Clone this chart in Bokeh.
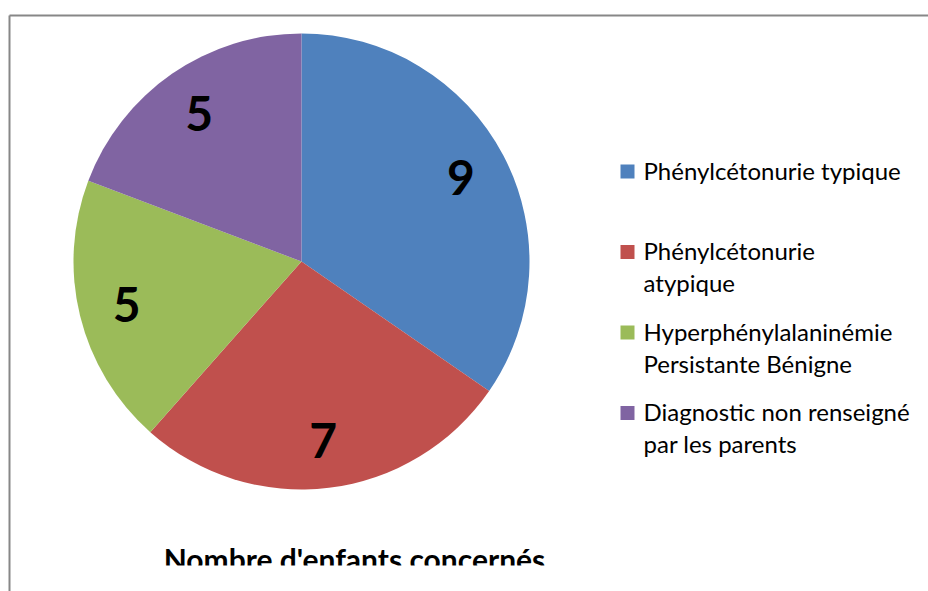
import math
from bokeh.plotting import figure
from bokeh.models import Range1d, ColumnDataSource
from bokeh.core.properties import value
from bokeh.embed import file_html
from bokeh.resources import INLINE

# ---- data ----
categories = [
    "Phénylcétonurie typique",
    "Phénylcétonurie\natypique",
    "Hyperphénylalaninémie\nPersistante Bénigne",
    "Diagnostic non renseigné\npar les parents",
]
counts = [9, 7, 5, 5]
colors = ["#4F81BD", "#C0504D", "#9BBB59", "#8064A2"]
title_text = "Nombre d'enfants concernés"

# ---- layout (figure pixel space, y up) ----
W, H = 928, 591
def fx(sx):
    return sx
def fy(sy):
    return H - sy

FONT = "Lato"

p = figure(width=W, height=H, x_range=Range1d(0, W), y_range=Range1d(0, H),
           output_backend="svg", toolbar_location=None, min_border=0,
           x_axis_type=None, y_axis_type=None, outline_line_color=None,
           background_fill_color="white", border_fill_color="white")
p.grid.visible = False

# pie
cx, cy, R = fx(301), fy(261), 228
total = sum(counts)
starts, ends, lx, ly = [], [], [], []
cum = 0
for c in counts:
    a_end = math.pi / 2 - 2 * math.pi * cum / total
    cum += c
    a_start = math.pi / 2 - 2 * math.pi * cum / total
    starts.append(a_start)
    ends.append(a_end)
    mid = (a_start + a_end) / 2
    lx.append(cx + 0.79 * R * math.cos(mid))
    ly.append(cy + 0.79 * R * math.sin(mid))

src = ColumnDataSource(dict(start=starts, end=ends, color=colors,
                            lx=lx, ly=ly, txt=[str(c) for c in counts]))
p.wedge(x=cx, y=cy, radius=R, start_angle="start", end_angle="end",
        fill_color="color", line_color=None, source=src)
p.text(x="lx", y="ly", text="txt", source=src, text_font=value(FONT),
       text_font_style="bold", text_font_size="48px", text_color="black",
       text_align="center", text_baseline="middle")

# legend
sq_x0, sq_size = fx(620), 14
step = 80.5
line_gap = 32
first_mid = 169.5
tx, ty, tt = [], [], []
qx, qy = [], []
for i, lab in enumerate(categories):
    mid_y = first_mid + i * step
    qx.append(sq_x0 + sq_size / 2)
    qy.append(fy(mid_y + 1.5))
    for k, line in enumerate(lab.split("\n")):
        tx.append(fx(643))
        ty.append(fy(mid_y + k * line_gap))
        tt.append(line)
p.rect(x=qx, y=qy, width=sq_size, height=sq_size, fill_color=colors, line_color=None)
p.text(x=tx, y=ty, text=tt, text_font=value(FONT), text_font_size="24px",
       text_color="black", text_align="left", text_baseline="middle")

# title (the reference image is cropped just above the baseline)
p.text(x=[fx(354)], y=[fy(558)], text=[title_text], text_font=value(FONT),
       text_font_style="bold", text_font_size="30px", text_color="black",
       text_align="center", text_baseline="middle")
p.quad(left=[fx(11)], right=[W], bottom=[0], top=[fy(565)],
       fill_color="white", line_color=None)

# frame (chart area border)
p.segment(x0=[fx(9), fx(9)], y0=[fy(15), fy(15)], x1=[fx(9), W + 5], y1=[-5, fy(15)],
          line_color="#878787", line_width=2)

open("out.html", "w").write(file_html(p, INLINE))
